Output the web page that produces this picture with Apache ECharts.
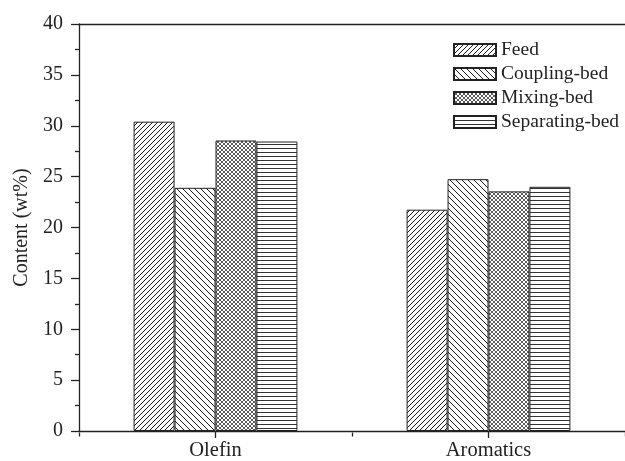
<!DOCTYPE html>
<html>
<head>
<meta charset="utf-8">
<script src="https://cdn.jsdelivr.net/npm/echarts@6/dist/echarts.min.js"></script>
<style>
html,body{margin:0;padding:0;background:#fff;}
#chart{width:625px;height:461px;}
</style>
</head>
<body>
<div id="chart"></div>
<script>
var categories = ['Olefin', 'Aromatics'];
var seriesNames = ['Feed', 'Coupling-bed', 'Mixing-bed', 'Separating-bed'];
var feed = [30.4, 21.75];
var coupling = [23.9, 24.75];
var mixing = [28.55, 23.55];
var separating = [28.45, 24.0];
var yTicks = [0, 5, 10, 15, 20, 25, 30, 35, 40];

function makePattern(kind) {
  var c = document.createElement('canvas');
  var s = kind === 'feed' ? 5 : kind === 'coupling' ? 6 : 4;
  c.width = s; c.height = s;
  var ctx = c.getContext('2d');
  ctx.fillStyle = '#fff';
  ctx.fillRect(0, 0, s, s);
  ctx.strokeStyle = kind === 'mixing' ? '#333' : '#1a1a1a';
  ctx.lineWidth = kind === 'mixing' ? 0.8 : 1;
  function fwd() {
    ctx.beginPath();
    ctx.moveTo(-1, s + 1); ctx.lineTo(s + 1, -1);
    ctx.moveTo(-1, 1); ctx.lineTo(1, -1);
    ctx.moveTo(s - 1, s + 1); ctx.lineTo(s + 1, s - 1);
    ctx.stroke();
  }
  function back() {
    ctx.beginPath();
    ctx.moveTo(-1, -1); ctx.lineTo(s + 1, s + 1);
    ctx.moveTo(s - 1, -1); ctx.lineTo(s + 1, 1);
    ctx.moveTo(-1, s - 1); ctx.lineTo(1, s + 1);
    ctx.stroke();
  }
  if (kind === 'feed') fwd();
  else if (kind === 'coupling') back();
  else if (kind === 'mixing') { fwd(); back(); }
  else {
    ctx.fillStyle = '#333';
    ctx.fillRect(0, 0, s, 1);
  }
  return { image: c, repeat: 'repeat' };
}

var kinds = ['feed', 'coupling', 'mixing', 'separating'];
var dataSets = [feed, coupling, mixing, separating];
var font = "'Liberation Serif', 'Times New Roman', serif";

var chart = echarts.init(document.getElementById('chart'), null, { renderer: 'canvas' });
var series = seriesNames.map(function (n, i) {
  return {
    name: n,
    type: 'bar',
    xAxisIndex: 0,
    yAxisIndex: 0,
    data: dataSets[i],
    barGap: '0%',
    barCategoryGap: '40%',
    itemStyle: { color: makePattern(kinds[i]), borderColor: '#222', borderWidth: 1 },
    emphasis: { disabled: true },
    animation: false
  };
});

chart.setOption({
  animation: false,
  backgroundColor: '#fff',
  textStyle: { fontFamily: font },
  grid: [
    { left: 79, top: 24, right: -9, bottom: 28.5, containLabel: false },
    { left: 79, top: 24, right: -9, bottom: 28.5, containLabel: false }
  ],
  legend: {
    orient: 'vertical',
    left: 448,
    top: 35,
    itemWidth: 42,
    itemHeight: 12,
    itemGap: 4,
    icon: 'rect',
    data: seriesNames,
    textStyle: { fontFamily: font, fontSize: 19.5, color: '#222', padding: [0, 0, 0, 0] },
    selectedMode: false
  },
  xAxis: [
    {
      type: 'category', gridIndex: 0, position: 'bottom', data: categories,
      boundaryGap: true,
      axisLine: { show: true, lineStyle: { color: '#222', width: 1.3 } },
      axisTick: { show: true, alignWithLabel: true, length: 7, lineStyle: { color: '#222', width: 1.3 } },
      axisLabel: { fontFamily: font, fontSize: 20.5, color: '#222', margin: 9 },
      splitLine: { show: false }
    },
    {
      type: 'category', gridIndex: 0, position: 'top', data: categories,
      axisLine: { show: true, lineStyle: { color: '#222', width: 1.3 } },
      axisTick: { show: false },
      axisLabel: { show: false },
      splitLine: { show: false }
    },
    {
      type: 'category', gridIndex: 1, position: 'bottom', data: categories,
      boundaryGap: true,
      axisLine: { show: false },
      axisTick: { show: true, alignWithLabel: false, length: 4, lineStyle: { color: '#222', width: 1.3 } },
      axisLabel: { show: false },
      splitLine: { show: false }
    }
  ],
  yAxis: [
    {
      type: 'value', gridIndex: 0, min: yTicks[0], max: yTicks[yTicks.length - 1], interval: 5,
      axisLine: { show: true, lineStyle: { color: '#222', width: 1.3 } },
      axisTick: { show: true, length: 8, lineStyle: { color: '#222', width: 1.3 } },
      minorTick: { show: true, splitNumber: 2, length: 4, lineStyle: { color: '#222', width: 1.3 } },
      axisLabel: { fontFamily: font, fontSize: 20, color: '#222', margin: 16 },
      splitLine: { show: false },
      name: 'Content (wt%)',
      nameLocation: 'middle',
      nameGap: 37,
      nameTextStyle: { fontFamily: font, fontSize: 20, color: '#222' }
    },
    {
      type: 'value', gridIndex: 1, min: 0, max: 40, show: false
    }
  ],
  series: series
});
</script>
</body>
</html>
